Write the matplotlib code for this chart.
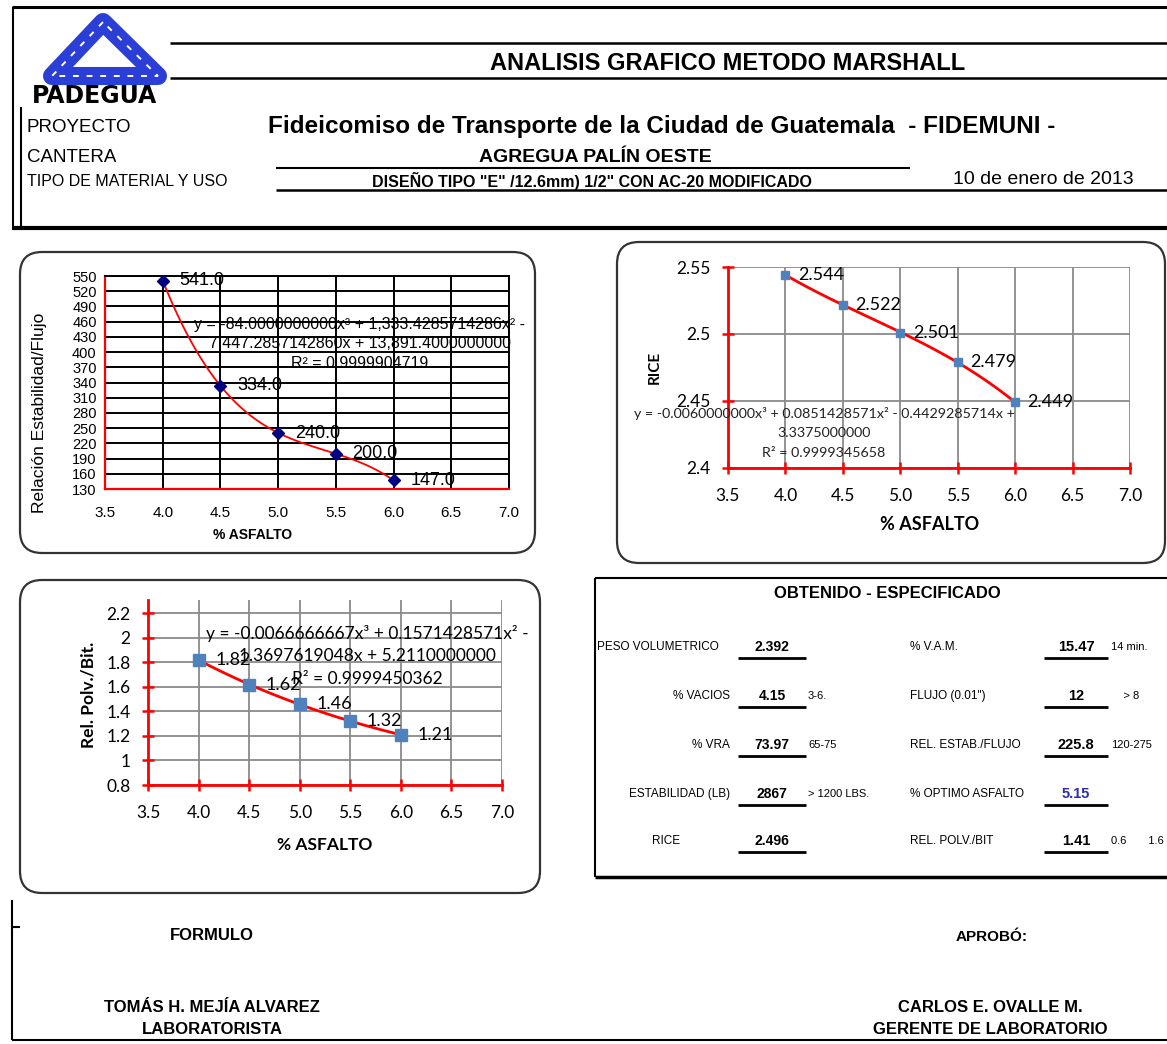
import numpy as np
import matplotlib
matplotlib.use('Agg')
import matplotlib.pyplot as plt
from matplotlib.patches import FancyBboxPatch, Polygon

W, H = 1167, 1044
plt.rcParams['font.family'] = ['Liberation Sans', 'DejaVu Sans']

# datos del ensayo Marshall
asfalto = [4.0, 4.5, 5.0, 5.5, 6.0]
estab_flujo = [541.0, 334.0, 240.0, 200.0, 147.0]
rice = [2.544, 2.522, 2.501, 2.479, 2.449]
polv_bit = [1.82, 1.62, 1.46, 1.32, 1.21]

eq_estab = ['y = -84.0000000000x³ + 1,333.4285714286x² -',
            '7,447.2857142860x + 13,891.4000000000',
            'R² = 0.9999904719']
eq_rice = ['y = -0.0060000000x³ + 0.0851428571x² - 0.4429285714x +',
           '3.3375000000',
           'R² = 0.9999345658']
eq_polv = ['y = -0.0066666667x³ + 0.1571428571x² -',
           '1.3697619048x + 5.2110000000',
           'R² = 0.9999450362']

tabla_izq = ['PESO VOLUMETRICO', '% VACIOS', '% VRA', 'ESTABILIDAD (LB)', 'RICE']
valores_izq = ['2.392', '4.15', '73.97', '2867', '2.496']
espec_izq = ['', '3-6.', '65-75', '> 1200 LBS.', '']
tabla_der = ['% V.A.M.', 'FLUJO (0.01")', 'REL. ESTAB./FLUJO', '% OPTIMO ASFALTO', 'REL. POLV./BIT']
valores_der = ['15.47', '12', '225.8', '5.15', '1.41']
espec_der = ['14 min.', '    > 8', '120-275', '', '0.6       1.6']

fig = plt.figure(figsize=(W / 100, H / 100), dpi=100)

# capa de dibujo en pixeles (encima de las graficas)
bg = fig.add_axes([0, 0, 1, 1], zorder=10)
bg.set_xlim(0, W)
bg.set_ylim(H, 0)
bg.axis('off')
bg.patch.set_alpha(0)


def line(x0, y0, x1, y1, lw=1.5, c='black'):
    bg.plot([x0, x1], [y0, y1], color=c, lw=lw, solid_capstyle='butt')


def txt(x, y, s, size=10, ha='left', weight='normal', **kw):
    bg.text(x, y, s, fontsize=size, ha=ha, va='center', fontweight=weight, **kw)


def box(x0, y0, x1, y1):
    bg.add_patch(FancyBboxPatch((x0, y0), x1 - x0, y1 - y0,
                                boxstyle='round,pad=0,rounding_size=22',
                                fc='none', ec='#333333', lw=1.6))


def pax(x0, y0, x1, y1):
    return fig.add_axes([x0 / W, 1 - y1 / H, (x1 - x0) / W, (y1 - y0) / H], zorder=1)


# ---------------- encabezado ----------------
line(12, 7, W, 7, lw=2.2)
line(13, 7, 13, 230, lw=1.5)
line(21, 107, 21, 230, lw=1.5)
line(170, 43, W, 43, lw=1.8)
line(170, 78, W, 78, lw=1.8)
line(276, 168, 910, 168, lw=1.5)
line(276, 190, W, 190, lw=1.8)
line(13, 228, W, 228, lw=3)

# logo
vert = [[103, 22], [52, 76], [158, 76]]
bg.add_patch(Polygon(vert, closed=True, fc='none', ec='#2b3fd6', lw=13, joinstyle='round'))
bg.add_patch(Polygon(vert, closed=True, fc='none', ec='white', lw=1.4, ls=(0, (3, 4))))
txt(95, 96, 'PADEGUA', size=17, ha='center', weight='bold', family='DejaVu Sans')

txt(728, 64, 'ANALISIS GRAFICO METODO MARSHALL', size=17, ha='center', weight='bold')
txt(27, 128, 'PROYECTO', size=13.5)
txt(27, 157, 'CANTERA', size=13.5)
txt(27, 181, 'TIPO DE MATERIAL Y USO', size=11.5)
txt(662, 127, 'Fideicomiso de Transporte de la Ciudad de Guatemala  - FIDEMUNI -', size=17.5, ha='center', weight='bold')
txt(595, 158, 'AGREGUA PALÍN OESTE', size=14, ha='center', weight='bold')
txt(592, 181, 'DISEÑO TIPO "E" /12.6mm) 1/2" CON AC-20 MODIFICADO', size=11.5, ha='center', weight='bold')
txt(1043, 180, '10 de enero de 2013', size=14, ha='center')

# ---------------- grafica 1: estabilidad / flujo ----------------
box(20, 252, 535, 553)
ax1 = pax(105, 276, 509, 489)
ax1.set_facecolor('white')
ax1.set_xlim(3.5, 7.0)
ax1.set_ylim(130, 550)
ax1.set_xticks(np.arange(3.5, 7.01, 0.5))
ax1.set_xticklabels([f'{v:.1f}' for v in np.arange(3.5, 7.01, 0.5)], fontsize=11)
ax1.set_yticks(np.arange(130, 551, 30))
ax1.set_yticklabels([str(v) for v in np.arange(130, 551, 30)], fontsize=10.5)
ax1.grid(True, color='black', lw=1.4)
ax1.tick_params(length=0, pad=6)
ax1.tick_params(axis='x', pad=12)
for s in ['left', 'bottom']:
    ax1.spines[s].set_color('red')
    ax1.spines[s].set_linewidth(1.6)
for s in ['top', 'right']:
    ax1.spines[s].set_linewidth(1.4)
c1 = np.polyfit(asfalto, estab_flujo, 3)
xs = np.linspace(asfalto[0], asfalto[-1], 200)
ax1.plot(xs, np.polyval(c1, xs), color='red', lw=1.3, zorder=3)
ax1.plot(asfalto, estab_flujo, 'D', color='#000080', ms=6, zorder=4)
for x, y in zip(asfalto, estab_flujo):
    ax1.annotate(f'{y:.1f}', (x, y), xytext=(12, 0), textcoords='offset points',
                 va='center', fontsize=13, annotation_clip=False)
for i, s in enumerate(eq_estab):
    txt(360, 325 + i * 19, s, size=11.5, ha='center')
txt(40, 413, 'Relación Estabilidad/Flujo', size=12.5, ha='center', rotation=90)
txt(253, 535, '% ASFALTO', size=10, ha='center', weight='bold')

# ---------------- grafica 2: RICE ----------------
box(617, 242, 1165, 563)


def estilo_excel(ax):
    ax.set_facecolor('none')
    ax.grid(True, color='#8a8a8a', lw=1.3)
    ax.set_axisbelow(True)
    for s in ['top', 'right']:
        ax.spines[s].set_visible(False)
    for s in ['left', 'bottom']:
        ax.spines[s].set_color('red')
        ax.spines[s].set_linewidth(2)
    ax.tick_params(direction='inout', length=9, width=1.8, color='red', labelsize=12.5)
    for lab in ax.get_xticklabels() + ax.get_yticklabels():
        lab.set_family('Lato')


ax2 = pax(728, 267, 1130, 468)
ax2.set_xlim(3.5, 7.0)
ax2.set_ylim(2.4, 2.55)
ax2.set_xticks(np.arange(3.5, 7.01, 0.5))
ax2.set_xticklabels([f'{v:.1f}' for v in np.arange(3.5, 7.01, 0.5)])
ax2.set_yticks([2.4, 2.45, 2.5, 2.55])
ax2.set_yticklabels(['2.4', '2.45', '2.5', '2.55'])
estilo_excel(ax2)
ax2.tick_params(axis='x', pad=10)
ax2.tick_params(axis='y', pad=8)
c2 = np.polyfit(asfalto, rice, 3)
ax2.plot(xs, np.polyval(c2, xs), color='red', lw=2, zorder=3)
ax2.plot(asfalto, rice, 's', color='#4f81bd', ms=6, zorder=4)
for x, y in zip(asfalto, rice):
    ax2.annotate(f'{y:.3f}', (x, y), xytext=(9, 0), textcoords='offset points',
                 va='center', fontsize=13, family='Lato', annotation_clip=False)
for i, s in enumerate(eq_rice):
    txt(824, 413 + i * 20, s, size=10.3, ha='center', family='Lato', color='#222222')
txt(655, 367, 'RICE', size=11, ha='center', weight='bold', rotation=90, family='Lato')
txt(930, 525, '% ASFALTO', size=13, ha='center', weight='bold', family='Lato')

# ---------------- grafica 3: relacion polvo / bitumen ----------------
box(20, 580, 540, 893)
ax3 = pax(148, 600, 502, 785)
ax3.set_xlim(3.5, 7.0)
ax3.set_ylim(0.8, 2.31)
ax3.set_xticks(np.arange(3.5, 7.01, 0.5))
ax3.set_xticklabels([f'{v:.1f}' for v in np.arange(3.5, 7.01, 0.5)])
ax3.set_yticks([0.8, 1.0, 1.2, 1.4, 1.6, 1.8, 2.0, 2.2])
ax3.set_yticklabels(['0.8', '1', '1.2', '1.4', '1.6', '1.8', '2', '2.2'])
estilo_excel(ax3)
ax3.tick_params(axis='x', pad=10)
ax3.tick_params(axis='y', pad=8)
c3 = np.polyfit(asfalto, polv_bit, 3)
ax3.plot(xs, np.polyval(c3, xs), color='red', lw=2, zorder=3)
ax3.plot(asfalto, polv_bit, 's', color='#4f81bd', ms=9, zorder=4)
for x, y in zip(asfalto, polv_bit):
    ax3.annotate(f'{y:.2f}', (x, y), xytext=(12, 0), textcoords='offset points',
                 va='center', fontsize=13, family='Lato', annotation_clip=False)
for i, s in enumerate(eq_polv):
    txt(367, 633 + i * 23, s, size=12.5, ha='center', family='Lato')
txt(88, 695, 'Rel. Polv./Bit.', size=12.5, ha='center', weight='bold', rotation=90, family='Lato')
txt(325, 845, '% ASFALTO', size=12.5, ha='center', weight='bold', family='Lato')

# ---------------- tabla obtenido - especificado ----------------
line(595, 578, W, 578, lw=1.5)
line(595, 578, 595, 877, lw=1.5)
line(595, 877, W, 877, lw=2.5)
txt(887, 593, 'OBTENIDO - ESPECIFICADO', size=12, ha='center', weight='bold')
filas_y = [647, 696, 745, 794, 841]
for i, y in enumerate(filas_y):
    if tabla_izq[i] == 'RICE':
        txt(666, y, tabla_izq[i], size=8.5, ha='center')
    elif tabla_izq[i].startswith('PESO'):
        txt(597, y, tabla_izq[i], size=8.5)
    else:
        txt(730, y, tabla_izq[i], size=8.5, ha='right')
    txt(772, y, valores_izq[i], size=10, ha='center', weight='bold')
    line(738, y + 11, 806, y + 11, lw=2)
    txt(808, y, espec_izq[i], size=8)
    txt(910, y, tabla_der[i], size=8.5)
    color = '#2b2bb0' if tabla_der[i].startswith('% OPTIMO') else 'black'
    txt(1076, y, valores_der[i], size=10.5, ha='center', weight='bold', color=color)
    line(1044, y + 11, 1108, y + 11, lw=2)
    txt(1111, y, espec_der[i], size=8)

# ---------------- firmas ----------------
line(12, 900, 12, 1040, lw=1.5)
line(12, 1040, W, 1040, lw=1.5)
line(12, 927, 20, 927, lw=1.5)
txt(212, 935, 'FORMULO', size=12, ha='center', weight='bold')
txt(992, 937, 'APROBÓ:', size=11, ha='center', weight='bold')
txt(212, 1008, 'TOMÁS H. MEJÍA ALVAREZ', size=12, ha='center', weight='bold')
txt(212, 1030, 'LABORATORISTA', size=12, ha='center', weight='bold')
txt(990, 1008, 'CARLOS E. OVALLE M.', size=12, ha='center', weight='bold')
txt(990, 1030, 'GERENTE DE LABORATORIO', size=12, ha='center', weight='bold')

fig.savefig('out.png', dpi=100)
